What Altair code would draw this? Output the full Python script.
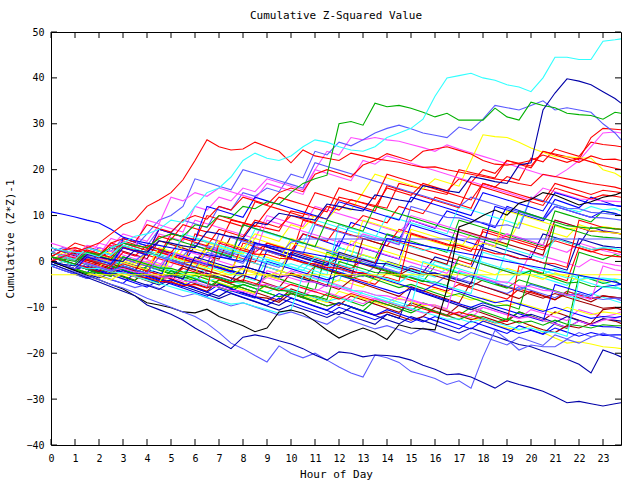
import altair as alt
import pandas as pd

# ---------------- data (half-hourly samples) ----------------
hours = [0, 0.5, 1, 1.5, 2, 2.5, 3, 3.5, 4, 4.5, 5, 5.5, 6, 6.5, 7, 7.5, 8, 8.5, 9, 9.5,
         10, 10.5, 11, 11.5, 12, 12.5, 13, 13.5, 14, 14.5, 15, 15.5, 16, 16.5, 17, 17.5,
         18, 18.5, 19, 19.5, 20, 20.5, 21, 21.5, 22, 22.5, 23, 23.5, 23.75]
hour_ticks = [0, 1, 2, 3, 4, 5, 6, 7, 8, 9, 10, 11, 12, 13, 14, 15, 16, 17, 18, 19, 20, 21, 22, 23]
value_ticks = [-40, -30, -20, -10, 0, 10, 20, 30, 40, 50]

cyan_top = [3, 2.4, 2, 1.8, 1, 3, 4, 5.5, 6, 7, 9, 8.5, 12, 15, 16, 18.4, 22, 23.6, 22.5, 22, 23, 25, 26.5, 26, 25, 24.3, 24, 25, 27, 28, 29, 31, 36, 40, 40.5, 41, 40, 39.5, 38.5, 38, 37, 40, 44.5, 44.5, 44, 44, 48, 48.3, 48.5]
navy_top = [0, -0.6, -1, 1.5, 1, 0.4, 0, 2.5, 2, 4.5, 4, 3.4, 3, 6.5, 6, 5.4, 5, 8.5, 8, 10.5, 10, 9.5, 9, 12.5, 12, 11.4, 11, 14.5, 14, 13.4, 13, 16.5, 16, 15.4, 15, 18.5, 18, 17.4, 17, 21, 21.5, 33, 36.7, 39.8, 39.3, 38.5, 37, 35.5, 34.5]
green_top = [1, 0.5, 0, 2, 1.5, 3, 4, 3.5, 3, 5, 6, 5.5, 8, 7.5, 10, 9.5, 12, 11.5, 13, 12.5, 15, 17, 18, 18.8, 30, 30.5, 29.7, 34.5, 33.7, 34, 33.4, 32.5, 31.5, 32.3, 30.8, 30.8, 30.8, 33.4, 31.5, 30.8, 34.7, 34, 33.5, 32.3, 32, 31.8, 31, 32.5, 32.3]
red_early = [0, 1, 2, 3, 4, 6, 8, 9, 12, 13.4, 15, 17.8, 22, 26.5, 25, 24.3, 24.5, 26, 25, 24, 21.5, 24.3, 23, 22.5, 22, 23.6, 23, 22.4, 22, 21.6, 21, 20.5, 20.6, 20, 19.5, 19, 18.5, 18, 17.6, 17, 16.5, 19, 18.5, 18, 17.5, 17, 16.6, 16.2, 15.8]
navy_low = [-0.5, -1.5, -2.5, -3.5, -4.5, -5.5, -6.5, -7.5, -9.5, -10.5, -11.5, -12.8, -14.5, -16, -17.5, -19, -16.5, -16, -16.5, -17.3, -18, -19, -20.4, -21.5, -19.7, -20, -20.8, -20.4, -20.5, -20.8, -21.5, -22.6, -23.5, -24.7, -24.5, -25.2, -26.4, -27.6, -26, -26.8, -27.5, -28.3, -29.5, -30.8, -30.5, -31, -31.5, -31, -30.8]
lblue_low = [-0.5, -1.5, -2.3, -3.2, -4, -5, -5.8, -6.8, -8, -9, -10, -11, -12, -13.5, -15.5, -17.8, -19, -20.5, -21.9, -18.4, -20, -21, -20, -21.5, -23, -24.3, -25.2, -20.4, -21, -22, -24, -24.7, -25.5, -26.8, -26, -27.6, -20.8, -15, -17, -19.3, -18.2, -18.6, -18.6, -17, -17.8, -16.5, -15.6, -16.5, -17]
black_line = [0, -1, -2, -3, -4, -5, -6, -7.5, -9, -9.5, -10.1, -11, -11.2, -10.4, -12, -13, -14, -15.3, -14.5, -11, -10.6, -11.3, -13, -15, -16.7, -15.5, -14.5, -15.5, -17, -13.8, -14.5, -14.7, -14.9, -6, 7.5, 8.5, 10, 11.2, 10.1, 12.7, 13.5, 15, 14.5, 13.4, 12.3, 13, 14, 14.5, 15]
blue_start = [10.8, 10.3, 9.7, 9, 8.4, 7, 5.3, 4.5, 4, 3.5, 3, 2.5, 2, 1.5, 1, 0.5, 0, 4, 3.5, 3, 2.5, 2, 1.5, 1, 0.5, 0, -0.5, -1, 5, 4.5, 4, 3.5, 3, 2.5, 2, 1.5, 1, 0.5, 0, -0.5, -1, -1.5, -2, -2.5, -3, -3.5, -4, -4.5, -5]
red_a = [2, 1.4, 0.8, 0.2, -0.4, 3.5, 3, 2.4, 1.8, 1.2, 6, 5.4, 4.8, 4.2, 3.6, 9, 8.4, 7.8, 7.2, 6.6, 11, 10.4, 9.8, 9.2, 14, 13.4, 12.8, 12.2, 11.6, 17, 16.4, 15.8, 15.2, 14.6, 20, 19.4, 18.8, 18.2, 22, 21.4, 20.8, 24, 23.4, 22.8, 22.2, 27, 29, 28.8, 28.7]
red_b = [1, 0.2, -0.6, 3, 2.2, 1.4, 0.6, -0.2, -1, 2, 1.2, 0.4, -0.4, 3, 2.2, 1.4, 0.6, -0.2, 4, 3.2, 2.4, 6, 5.2, 4.4, 8, 7.2, 10, 9.2, 8.4, 12, 11.2, 10.4, 14, 13.2, 12.4, 11.6, 17, 16.2, 18.5, 17.7, 22.5, 21.7, 24.5, 23.7, 22.9, 26, 25.5, 25.2, 25]
mag_a = [3, 2.2, 1.4, 0.6, 4, 3.2, 6, 5.2, 4.4, 8, 7.2, 6.4, 12, 11.2, 14, 13.2, 16, 15.2, 18, 17.2, 16.4, 15.6, 20, 24, 23.2, 27, 26.5, 27, 26.5, 26.2, 25.5, 24.8, 24, 25.4, 24.5, 23.7, 22.9, 22.1, 21.3, 20.5, 19.7, 18.9, 18.4, 20, 22, 25, 28, 28.2, 28]
lblue_a = [0, 1.5, 2, 1.2, 3, 2.2, 5, 4.2, 3.4, 7, 6.2, 9, 8.2, 7.4, 12, 11.2, 15, 14.2, 16, 15.2, 19, 18.2, 24, 23.2, 26, 25.2, 26.5, 28, 29, 29.7, 28.9, 28, 27.5, 27, 29.3, 28.6, 31, 34, 33.5, 33, 34, 35, 33, 33.5, 33, 32.5, 30, 28, 26.5]
yel_a = [2, 1.2, 0.4, -0.4, -1.2, 1, 0.2, -0.6, 2, 1.2, 0.4, 3.5, 2.7, 1.9, 4.5, 3.7, 2.9, 6, 5.2, 4.4, 8, 7.2, 10, 9.2, 12, 11.2, 15, 19, 18.2, 17.4, 16.6, 15.8, 18, 17.2, 16.4, 22, 27.6, 27.2, 27, 26, 24.7, 23.8, 22.8, 22.8, 22.6, 22.5, 20, 19.2, 18.4]
red_c = [0, -0.8, -1.6, 0.5, -0.3, -1.1, 2, 1.2, 3.5, 2.7, 1.9, 5, 4.2, 3.4, 7, 6.2, 5.4, 9, 8.2, 7.4, 10, 9.2, 8.4, 12, 11.2, 13.5, 12.7, 11.9, 16, 15.2, 14.4, 17, 16.2, 15.4, 18, 17.2, 20, 19.2, 22, 21.2, 20.4, 24, 23.2, 22.4, 21.6, 23, 22.2, 22.3, 22]
red_d = [1, 2.5, 3, 2.2, 1.4, 4, 5, 4.2, 8, 7.2, 6.4, 9, 10, 9.2, 12, 11.2, 14, 13.2, 12.4, 15, 16, 15.2, 19, 20, 19.2, 18.4, 21, 22, 23.5, 22.7, 21.9, 24, 24.5, 25, 24.2, 23.4, 22, 21.2, 21, 21.4, 22, 23.2, 22.4, 21.6, 22.5, 21.7, 20.9, 20.3, 20]
f01 = [0, -0.8, -1.7, -2.5, 0.5, -0.4, -1.3, -2.1, 2, 1.1, 0.2, -0.7, 3.5, 2.6, 1.7, 0.8, 5, 4.1, 3.2, 2.3, 1.4, 6, 5.1, 4.2, 3.3, 8.5, 7.6, 6.7, 5.8, 4.9, 9, 8.1, 7.2, 11, 10.1, 9.2, 8.3, 7.4, 12, 11.1, 10.2, 9.3, 13.5, 12.6, 11.7, 14, 13.1, 12.2, 12]
f02 = [2, 1.2, 0.4, -0.4, -1.2, -2, 1, 0.2, -0.6, -1.4, -2.2, -3, 0.5, -0.3, -1.1, -1.9, -2.7, 4, 3.2, 2.4, 1.6, 0.8, 0, -0.8, 3, 2.2, 1.4, 0.6, 6, 5.2, 4.4, 3.6, 2.8, 2, 9, 8.2, 7.4, 6.6, 5.8, 5, 4.2, 3.4, 11, 10.2, 9.4, 8.6, 11, 10.4, 10]
f03 = [1, 2.5, 1.7, 0.9, 0.1, 3, 2.2, 1.4, 0.6, 6, 5.2, 4.4, 9, 8.2, 7.4, 6.6, 5.8, 5, 10, 9.2, 8.4, 7.6, 12, 11.2, 10.4, 9.6, 8.8, 8, 7.2, 6.4, 9, 8.2, 7.4, 6.6, 5.8, 5, 4.2, 3.4, 6, 5.2, 4.4, 3.6, 2.8, 2, 4, 3.2, 2.4, 1.8, 1.5]
f04 = [3, 2.2, 1.4, 0.6, -0.2, -1, -1.8, 0.5, -0.3, -1.1, -1.9, -2.7, -3.5, -1, -1.8, -2.6, -3.4, -4.2, 0.5, -0.3, -1.1, -1.9, -2.7, -3.5, -4.3, 1.5, 0.7, -0.1, -0.9, -1.7, -2.5, -3.3, 0, -0.8, -1.6, -2.4, -3.2, -4, -4.8, -2, -2.8, -3.6, -4.4, -5.2, -3, -3.8, -4.6, -5.4, -6]
f05 = [0, -0.9, -1.8, -0.5, -1.4, -2.3, -3.2, -4.1, -2, -2.9, -3.8, -4.7, -5.6, -6.5, -4, -4.9, -5.8, -6.7, -7.6, -8.5, -6, -6.9, -7.8, -8.7, -9.6, -7.5, -8.4, -9.3, -10.2, -11.1, -9, -9.9, -10.8, -11.7, -9.5, -10.4, -11.3, -12.2, -13.1, -11, -11.9, -12.8, -11, -11.9, -12.8, -13.7, -12.5, -13, -13.5]
f06 = [1, 0.2, -0.6, -1.4, -2.2, -3, -3.8, -2, -2.8, -3.6, -4.4, -5.2, -3, -3.8, -4.6, -5.4, -6.2, -7, -5, -5.8, -6.6, -7.4, -8.2, -9, -6.5, -7.3, -8.1, -8.9, -9.7, -8, -8.8, -9.6, -9.5, -10.5, -12, -12.5, -13, -13.8, -14.5, -15, -13.8, -15.5, -16.7, -17.8, -17.5, -18, -18.6, -18.8, -19]
f07 = [2, 3, 2.2, 1.4, 0.6, -0.2, -1, -1.8, 3, 2.2, 1.4, 0.6, -0.2, 3.5, 2.7, 1.9, 1.1, 0.3, -0.5, -1.3, 1.5, 0.7, -0.1, -0.9, -1.7, -2.5, -3.3, -1, -1.8, -2.6, -3.4, -4.2, -5, -3, -3.8, -4.6, -5.4, -6.2, -7, -5.5, -6.3, -7.1, -7.9, -6.5, -7.3, -8.1, -7.5, -8, -8.5]
f08 = [0, 1, 0.2, -0.6, 1.5, 0.7, -0.1, -0.9, -1.7, -2.5, -3.3, -1, -1.8, -2.6, -3.4, -4.2, -1, -1.8, -2.6, -3.4, 2, 1.2, 0.4, -0.4, -1.2, -2, -2.8, -3.6, 0, -0.8, -1.6, -2.4, 1, 0.2, -0.6, -1.4, 4, 3.2, 2.4, 1.6, 0.8, 6, 5.2, 4.4, 3.6, 7.5, 6.7, 6.3, 6]
f09 = [3, 2.2, 4, 3.2, 2.4, 1.6, 4.5, 3.7, 2.9, 2.1, 1.3, 0.5, -0.3, -1.1, 2, 1.2, 0.4, -0.4, -1.2, -2, -2.8, -3.6, -1, -1.8, -2.6, -3.4, -4.2, -5, -2.5, -3.3, -4.1, -4.9, -5.7, -6.5, -5, -5.8, -6.6, -7.4, -8.2, -6, -6.8, -7.6, -8.4, -6.5, -7.3, -8.1, -7.5, -7.8, -8]
f10 = [-1, -1.9, -2.8, -3.7, -2, -2.9, -3.8, -4.7, -5.6, -4, -4.9, -5.8, -6.7, -7.6, -6, -6.9, -7.8, -8.7, -9.6, -8, -8.9, -9.8, -10.7, -11.6, -10, -10.9, -11.8, -12.7, -11.5, -12.4, -13.3, -12, -12.9, -13.8, -14.7, -13, -13.9, -14.8, -15.7, -14, -14.9, -15.8, -13.5, -14.4, -13, -13.9, -14.2, -14.3, -14.5]
f11 = [1, 0.1, -0.8, -1.7, -2.6, -1, -1.9, -2.8, -3.7, -4.6, -3, -3.9, -4.8, -5.7, -4, -4.9, -5.8, -6.7, -5, -5.9, -6.8, -7.7, -8.6, -7, -7.9, -8.8, -9.7, -8, -8.9, -9.8, -10.7, -9, -9.9, -10.8, -11.7, -10, -10.9, -11.8, -12.7, -11, -11.9, -12.8, -13.7, -14.6, -3, -3.9, -4.8, -4.2, -5]
f12 = [0, -0.8, -1.6, -2.4, -3.2, -1.5, -2.3, -3.1, -3.9, -4.7, -3, -3.8, -4.6, -2, -2.8, -3.6, -4.4, -5.2, -3.5, -4.3, -5.1, -5.9, -6.7, -5, -5.8, -6.6, -7.4, -8.2, -9, -7.5, -8.3, -9.1, -9.9, -10.7, -11.5, -12.3, -10, -10.8, -11.6, -12.4, -10.5, -11.3, -12.1, -12.9, -10.5, -11.3, -12.1, -11.5, -11]
f13 = [2, 1.2, 0.4, -0.4, 1, 0.2, -0.6, -1.4, 0, -0.8, -1.6, -2.4, -1, -1.8, 2, 1.2, 0.4, -0.4, -1.2, -2, -2.8, -0.5, -1.3, -2.1, 3, 2.2, 1.4, 0.6, -0.2, -1, -1.8, -2.6, -3.4, -1.5, -2.3, -3.1, -3.9, -4.7, -5.5, -6.3, -5, -5.8, -6.6, -7.4, -8.2, -7, -7.8, -8.6, -9]
f14 = [1, 2.5, 1.7, 0.9, 0.1, 3, 2.2, 1.4, 0.6, 4.5, 3.7, 2.9, 2.1, 1.3, 0.5, 5.5, 4.7, 3.9, 3.1, 2.3, 1.5, 0.7, -0.1, -0.9, 1, 0.2, -0.6, -1.4, -2.2, -3, -1.5, -2.3, -3.1, -3.9, -4.7, -5.5, -4, -4.8, -5.6, -6.4, -7.2, -8, -7, -7.8, -8.6, -9.4, -10.2, -10, -10.5]
f15 = [0, 2, 1.2, 0.4, 2.5, 1.7, 0.9, 0.1, -0.7, -1.5, 0.5, -0.3, -1.1, -1.9, -2.7, -1, -1.8, -2.6, -3.4, -2, -2.8, -3.6, -4.4, -5.2, -4, -4.8, -5.6, -3.5, -4.3, -5.1, -5.9, -6.7, -6, -6.8, -7.6, -8.4, -8, -8.8, -9.6, -9, -9.8, -10.6, -11.4, -10, -10.8, -11.6, -11, -11.3, -11.5]
f16 = [-1, 0, -0.8, -1.6, -2.4, -3.2, -1, -1.8, -2.6, 2.5, 1.7, 0.9, 0.1, -0.7, -1.5, -2.3, 4, 3.2, 2.4, 1.6, 0.8, 9, 8.2, 7.4, 6.6, 5.8, 5, 4.2, 3.4, 7, 6.2, 5.4, 4.6, 3.8, 3, 2.2, 6.5, 5.7, 4.9, 4.1, 3.3, 2.5, 5, 4.2, 3.4, 2.6, 2.8, 2.3, 2]
f17 = [0, -0.8, -1.6, -2.4, -3.2, -4, -4.8, -2.5, -3.3, -4.1, 2, 1.2, 0.4, -0.4, -1.2, -2, -2.8, 4, 3.2, 2.4, 1.6, 0.8, 0, -0.8, 4.5, 3.7, 2.9, 2.1, 1.3, 0.5, 8, 7.2, 6.4, 5.6, 4.8, 4, 3.2, 12, 11.2, 10.4, 9.6, 8.8, 12, 11.2, 10.4, 9.6, 11, 10.5, 10]
f18 = [3, 2.2, 1.4, 0.6, -0.2, -1, -1.8, -2.6, -1, -1.8, -2.6, -3.4, -4.2, -2, -2.8, -3.6, -4.4, -5.2, -3, -3.8, -4.6, -5.4, -6.2, 2, 1.2, 0.4, -0.4, -1.2, -2, -2.8, -3.6, -4.4, -1, -1.8, -2.6, -3.4, -4.2, -5, -5.8, -4, -4.8, -5.6, -6.4, -7.2, 2, 1.2, 0.4, 1.5, 1]
f19 = [4, 3.2, 2.4, 1.6, 0.8, 0, 2, 1.2, 0.4, -0.4, -1.2, 2.5, 1.7, 0.9, 0.1, -0.7, -1.5, -2.3, -3.1, -3.9, -2, -2.8, -3.6, -4.4, -5.2, -6, 3, 2.2, 1.4, 0.6, -0.2, -1, -1.8, -2.6, 1, 0.2, -0.6, -1.4, -2.2, -3, 2, 1.2, 0.4, -0.4, -1.2, 0.5, -0.3, -0.8, -1]
f20 = [1, 0.2, -0.6, 3, 2.2, 1.4, 4, 3.2, 2.4, 1.6, 0.8, 0, 5, 4.2, 3.4, 2.6, 1.8, 7, 6.2, 5.4, 4.6, 3.8, 9, 8.2, 7.4, 6.6, 5.8, 5, 10, 9.2, 8.4, 7.6, 6.8, 6, 12, 11.2, 10.4, 9.6, 8.8, 8, 14, 13.2, 12.4, 11.6, 10.8, 12, 11.2, 11.5, 11]
f21 = [2, 1.1, 0.2, -0.7, -1.6, -2.5, -1, -1.9, -2.8, -3.7, -4.6, -1, -1.9, -2.8, -3.7, -4.6, -3, -3.9, -4.8, -5.7, -2.5, -3.4, -4.3, -5.2, -6.1, -4, -4.9, -5.8, -6.7, -7.6, -5.5, -6.4, -7.3, -8.2, -9.1, -4.5, -5.4, -6.3, -7.2, -8.1, -6.5, -7.4, -8.3, -7, -7.9, -8.8, -7.5, -7.8, -8]
f22 = [1, 0.2, -0.6, -1.4, 0.5, -0.3, -1.1, -1.9, 0, -0.8, -1.6, -2.4, -3.2, 4, 3.2, 2.4, 1.6, 5, 4.2, 3.4, 2.6, 1.8, 1, 0.2, -0.6, 4.5, 3.7, 2.9, 2.1, 1.3, 0.5, -0.3, -1.1, -1.9, -0.5, -1.3, -2.1, -2.9, -1.5, -2.3, -3.1, -3.9, -2.5, -3.3, -4.1, -3.5, -4.3, -3.8, -4]
f23 = [-1, -1.9, -2.8, -3.7, -3, -3.9, -4.8, -5.7, -5, -5.9, -6.8, -7.7, -7, -7.9, -8.8, -9.7, -9, -9.9, -10.8, -11.7, -11, -11.9, -12.8, -13.7, -12, -12.9, -13.8, -14.7, -14, -14.9, -15.8, -14.5, -15.4, -16.3, -17.2, -15.5, -16.4, -17.3, -18.2, -16.5, -17.4, -18.3, -16, -16.9, -15.5, -16.4, -15.8, -16.5, -17]
f24 = [0, -0.9, -1.8, -2.7, -3.6, -2.5, -3.4, -4.3, -5.2, -6.1, -4.5, -5.4, -6.3, -7.2, -8.1, -7, -7.9, -8.8, -9.7, -10.6, -9.5, -10.4, -11.3, -12.2, -11, -11.9, -12.8, -13.7, -11.5, -12.4, -6, -6.9, -7.8, -8.7, -9.6, -10.5, -9.5, -10.4, -11.3, -12.2, -11.5, -12.4, -13.3, -12, -12.9, -13.8, -12.5, -12.8, -13]
f25 = [2, 1.2, 0.4, -0.4, 1, 0.2, 3, 2.2, 1.4, 0.6, -0.2, -1, 6, 5.2, 4.4, 3.6, 2.8, 2, 4, 3.2, 2.4, 1.6, 0.8, 0, -0.8, -1.6, 0.5, -0.3, 5, 4.2, 3.4, 2.6, 1.8, 1, 0.2, -0.6, 7, 6.2, 5.4, 4.6, 3.8, 3, 4.5, 3.7, 2.9, 2.1, 2.8, 2.3, 2]
f26 = [1, 0.2, -0.6, -1.4, -2.2, -3, -1.5, -2.3, -3.1, -3.9, -4.7, -5.5, -4, -4.8, -5.6, -6.4, -7.2, -8, 0, -0.8, -1.6, -2.4, -3.2, -4, -3, -3.8, -4.6, -5.4, -6.2, -7, -6, -6.8, -7.6, -8.4, -9.2, -10, -9, -9.8, -10.6, -11.4, -12.2, -13, -5, -5.8, -6.6, -7.4, -5.5, -5.2, -5]
f27 = [0, -0.9, -1.8, -2.7, -1.5, -2.4, -3.3, -4.2, -1, -1.9, -2.8, -3.7, -3, -3.9, -4.8, -5.7, -5, -5.9, -6.8, -7.7, -7, -7.9, -1, -1.9, -2.8, -3.7, -3, -3.9, -4.8, -5.7, -5, -5.9, -6.8, -7.7, -7, -7.9, -8.8, -9.7, -9.5, -10.4, -2, -2.9, -3.8, -4.7, -4.5, -5.4, -5.5, -5.8, -6]
f28 = [2, 1.2, 0.4, -0.4, -1.2, -2, -1, -1.8, -2.6, -3.4, -3, -3.8, -4.6, -2, -2.8, -3.6, -4.4, -5.2, -5, -5.8, -6.6, -7.4, -6, -6.8, -7.6, -8.4, -9.2, -8, -8.8, -9.6, -10.4, -11.2, -11, -11.8, -12.6, -11, -10, -10.8, -11.6, -12.4, -12, -12.8, -13.6, -14.4, -13, -13.8, -12.8, -12.4, -12]
f29 = [0, 1, 0.2, -0.6, -1.4, -2.2, -1, -1.8, -2.6, -1.2, -2, -2.8, -3.6, -4.4, -3.5, -4.3, -5.1, -5.9, -6.7, -5.5, -6.3, -7.1, -7.9, -8.7, -8, -8.8, -6.5, -7.3, -8.1, -8.9, -9.7, 0, -0.8, -1.6, -2.4, -3.2, -4, -4.8, 3, 2.2, 1.4, 0.6, 5, 4.2, 3.4, 2.6, 3, 2.8, 2.5]
f30 = [3, 2.1, 1.2, 0.3, -0.6, -1.5, -1, -1.9, -2.8, -3.7, -3, -3.9, -4.8, -5.7, -5, -5.9, -6.8, -7.7, -8, -8.9, -7, -7.9, -8.8, -9.7, -9, -9.9, -10.8, -11.7, -11, -11.9, -12.8, -12, -10, -10.9, -11.8, -12.7, -12, -12.9, -13.8, -13, -14, -14.9, -15.5, -14, -14.5, -13.5, -10.5, -10.2, -10]
f31 = [2, 1.2, 3, 2.2, 1.4, 0.6, -0.2, -1, -1.8, 3, 2.2, 1.4, 0.6, -0.2, -1, -1.8, 2.5, 1.7, 0.9, 0.1, 5, 4.2, 3.4, 2.6, 1.8, 1, 9, 8.2, 7.4, 6.6, 5.8, 5, 4.2, 3.4, 2.6, 6, 5.2, 4.4, 3.6, 8.5, 7.7, 6.9, 6.1, 5.3, 8, 7.2, 7.6, 7.2, 7]
f32 = [1, 0.2, -0.6, 3, 2.2, 1.4, 0.6, -0.2, -1, -1.8, 2, 1.2, 4, 3.2, 2.4, 1.6, 8, 7.2, 6.4, 5.6, 4.8, 4, 3.2, 2.4, 1.6, 0.8, 0, -0.8, -1.6, -2.4, -1, -1.8, -2.6, -3.4, -4.2, -3, -3.8, -4.6, -5.4, -6.2, -5, -5.8, -6.6, -7.4, -7, -7.8, -8.3, -8, -8]
f33 = [1, 0.1, -0.8, -1.7, -2.6, -1.5, -2.4, -3.3, -4.2, -5.1, -4, -4.9, -5.8, -6.7, -7.6, -6, -6.9, -7.8, -8.7, -9.6, -8, -8.9, -9.8, -10.7, -11.6, -10, -10.9, -11.8, -12.7, -13.6, -12, -12.9, -13.8, -14.7, -15.6, -14.5, -15.4, -16.3, -17.2, -18.1, -18.6, -19.5, -20.4, -21.3, -22.4, -24.3, -19.3, -20.2, -20.8]
f34 = [0, 1.5, 0.7, -0.1, -0.9, -1.7, -0.5, -1.3, -2.1, -2.9, -3.7, -1.5, -2.3, -3.1, -3.9, -4.7, -4, -4.8, -5.6, -6.4, -5, -5.8, -6.6, -7.4, -8.2, -7, -7.8, -8.6, -9.4, -10.2, -9.5, -10.3, -11.1, -11.9, -11, -11.8, -12.6, -13.4, -13, -1, -1.8, -2.6, -3.4, -4.2, 3, 2.2, 1.4, 1.1, 1]
f35 = [2, 1.2, 0.4, -0.4, -1.2, -2, 5, 4.2, 3.4, 2.6, 1.8, 1, 0.2, -0.6, -1.4, -2.2, -3, -3.8, 2.5, 1.7, 0.9, 0.1, -0.7, -1.5, -2.3, -3.1, -2.5, -3.3, -4.1, -4.9, -5.7, -6.5, -5, -5.8, -6.6, -7.4, -8.2, -9, -8.5, -9.3, -10.1, -10.9, -10, -10.8, -11.6, -12.4, -12, -12.2, -12]
f36 = [1, 0.1, -0.8, -1.7, -2.6, -1, -1.9, -2.8, -3.7, -4.6, -2, -2.9, -3.8, -4.7, -5.6, -6.5, -5, -5.9, -6.8, -7.7, -7, -7.9, -8.8, -9.7, -9, -9.9, -10.8, -8.5, -9.4, -10.3, -11.2, -10, -10.9, -11.8, -12.7, -11.5, -12.4, -13.3, -12.5, -13.4, -13, -13.9, -12.8, -13.7, -14, -14.5, -13.8, -14, -14]
f37 = [0, 1.5, 1, 3.5, 3, 2.2, 1.4, 0.6, -0.2, -1, 2, 1.2, 0.4, -0.4, 4, 3.2, 2.4, 1.6, 9, 8.2, 7.4, 6.6, 5.8, 5, 4.2, 3.4, 6, 5.2, 4.4, 3.6, 10, 9.2, 8.4, 7.6, 6.8, 6, 5.2, 4.4, 6, 5.2, 4.4, 3.6, 9, 8.2, 7.4, 6.6, 6.5, 6.2, 6]
f38 = [2, 1.2, 0.4, -0.4, -1.2, -2, -1, -1.8, -2.6, -3.4, -3, -3.8, -4.6, -5.4, 3, 2.2, 1.4, 0.6, -0.2, -1, -0.5, -1.3, -2.1, -2.9, 8, 7.2, 6.4, 5.6, 4.8, 4, 3.2, 2.4, 3, 2.2, 1.4, 0.6, -0.2, -1, -1.8, -2.6, -2, -2.8, -1.5, -2.3, -3.9, -3.5, -3.8, -4, -4]
f39 = [1, 0.2, 2.5, 1.7, 0.9, 4, 3.2, 2.4, 1.6, 7, 6.2, 5.4, 4.6, 10, 9.2, 8.4, 7.6, 13, 12.2, 11.4, 10.6, 9.8, 15, 14.2, 13.4, 12.6, 11.8, 11, 16.5, 15.7, 14.9, 14.1, 13.3, 12.5, 11.7, 17, 16.2, 15.4, 14.6, 13.8, 13, 12.2, 16, 15.2, 14.4, 13.6, 14.5, 14.2, 14]
f40 = [0, -0.9, -1.8, -1, -1.9, -2.8, -2, -2.9, -3.8, -4.7, -4, -4.9, -5.8, -6.7, -5, -5.9, -6.8, -7.7, -8.6, -7, -7.9, -8.8, -9.7, -10.6, -9, -9.9, -10.8, -11.7, -10.5, -11.4, -12.3, -13.2, -12, -12.9, -13.8, -14.7, -13, -13.9, -14.8, -15.7, -15, -15.9, -14.5, -15.4, -16.3, -15.5, -16.1, -16, -16]
f41 = [1, 0.2, -0.6, -1.4, -2.2, -0.5, -1.3, -2.1, 2, 1.2, 0.4, -0.4, -1.2, -2, -2.8, -3.6, -4.4, 3, 2.2, 1.4, 0.6, -0.2, -1, -1.8, -2.6, -3.4, 5, 4.2, 3.4, 2.6, 1.8, 1, 0.2, -0.6, 7, 6.2, 5.4, 4.6, 3.8, 3, 2.2, 1.4, 9, 8.2, 7.4, 6.6, 6.5, 6.2, 6]
f42 = [0, -0.8, -1.6, -2.4, -3.2, -4, -2.5, -3.3, -4.1, -4.9, 1, 0.2, -0.6, -1.4, -2.2, -3, -1.5, -2.3, -3.1, -3.9, 4, 3.2, 2.4, 1.6, 0.8, 0, 1.5, 0.7, -0.1, -0.9, 7, 6.2, 5.4, 4.6, 3.8, 3, 4, 3.2, 11, 10.2, 9.4, 8.6, 7.8, 7, 7.5, 6.7, 6.4, 6.2, 6]
f43 = [3, 2.2, 1.4, 0.6, -0.2, -1, 1, 0.2, 2, 1.2, 0.4, -0.4, 0, -0.8, 6, 5.2, 4.4, 3.6, 3.5, 2.7, 2.5, 1.7, 8, 7.2, 6.4, 5.6, 5.5, 4.7, 4.5, 3.7, 12, 11.2, 10.4, 9.6, 9.5, 8.7, 8.5, 7.7, 8, 7.2, 14, 13.2, 12.4, 11.6, 11.5, 10.7, 10.5, 10.2, 10]
f44 = [2, 1.2, 0.4, -0.4, -1.2, -2, -1, -1.8, -2.6, -3.4, -3, -3.8, 1, 0.2, -0.6, -1.4, -1, -1.8, -2.6, -3.4, -3, -3.8, -4.6, -5.4, 2, 1.2, 0.4, -0.4, -0.5, -1.3, -2.1, -2.9, -2.5, -3.3, -4.1, -4.9, 3, 2.2, 1.4, 0.6, 0.5, -0.3, -1.1, -1.9, 5, 4.2, 3.4, 3.1, 3]
f45 = [0, -0.8, -1.6, -2.4, -2.5, -3.3, 1, 0.2, -0.6, -1.4, -1.5, -2.3, -2.5, -3.3, -3.5, -4.3, -4.5, -5.3, -5.5, -6.3, -6.5, -7.3, -7.5, -8.3, 0, -0.8, -1.6, -2.4, -2.5, -3.3, -3.5, -4.3, -4.5, -5.3, 1, 0.2, -0.6, -1.4, -2.2, -3, -2, -2.8, 8, 7.2, 6.4, 5.6, 5.3, 5.1, 5]
f46 = [1, 0.2, -0.6, -1.4, -1.5, -2.3, -2.5, -3.3, -3.5, -4.3, -4.5, -5.3, -5, -5.8, 4, 3.2, 2.4, 1.6, 1.5, 0.7, 0.5, -0.3, -0.5, -1.3, -1.5, -2.3, -2.5, -3.3, -3.5, -4.3, 6, 5.2, 4.4, 3.6, 3.5, 2.7, 2.5, 1.7, 1.5, 0.7, 0.5, -0.3, -0.5, -1.3, 9, 8.2, 7.4, 7.1, 7]
f47 = [2, 1.2, 0.4, -0.4, -1.2, -2, -1.5, -2.3, -2.5, -3.3, -3.5, -4.3, -4.5, -5.3, -5.5, -6.3, -6.5, -7.3, -2, -2.8, -3.6, -4.4, -4.5, -5.3, -5.5, -6.3, -6.5, -7.3, -7.5, -8.3, -8.5, -9.3, -9.5, -10.3, -2, -2.8, -3.6, -4.4, -4.5, -5.3, -5.5, -6.3, -6.5, -7.3, -7.5, -8.3, -1, -1.8, -2]
f48 = [-1, 0, -0.8, -1.6, -1.5, -2.3, -2.5, -3.3, -4, -4.8, -5.5, -6.3, -7, -7.8, -8.5, -9.3, -9, -9.8, -10.5, -11.3, -10.5, -3, -3.8, -4.6, -5.4, -6.2, -7, -7.8, -8.6, -9.4, -10.2, -11, -11.8, -12.6, -12.5, -13.3, -12.5, -13.3, -14, -14.8, -14.5, -15.3, -15.5, -16.3, -4, -4.8, -5.6, -5.8, -6]
f49 = [0, 1, 2, 1.2, 0.4, -0.4, 4, 3.2, 6, 9, 10, 12, 18, 17.2, 16.4, 15.6, 20, 19.2, 18.4, 17.6, 16.8, 16, 21.5, 20.7, 19.9, 19.1, 18.3, 17.5, 16.7, 15.9, 15.1, 14.3, 13.5, 12.7, 11.9, 14, 13.2, 12.4, 11.6, 10.8, 10, 9.2, 12, 11.2, 10.4, 9.6, 9.5, 9.2, 9]
f50 = [1, 0.2, 3, 2.2, 1.4, 5, 4.2, 3.4, 9, 8.2, 14, 13.2, 15, 14.2, 16, 15.2, 14.4, 13.6, 17, 16.2, 15.4, 14.6, 20, 19.2, 18.4, 17.6, 22, 21.2, 23, 22.2, 21.4, 20.6, 19.8, 19, 18.2, 17.4, 16.6, 15.8, 15, 14.2, 13.4, 16, 15.2, 14.4, 13.6, 13.5, 13.2, 13.1, 13]
f51 = [0, -0.8, -1.6, 1, 0.2, -0.6, 3, 2.2, 1.4, 7, 6.2, 5.4, 4.6, 12, 11.2, 10.4, 9.6, 14, 13.2, 12.4, 11.6, 10.8, 10, 9.2, 13, 12.2, 11.4, 10.6, 9.8, 9, 14, 13.2, 12.4, 11.6, 10.8, 10, 15, 14.2, 13.4, 12.6, 11.8, 11, 15, 14.2, 13.4, 12.6, 12.5, 12.2, 12]
f52 = [2, 1.2, 0.4, 2.5, 1.7, 0.9, 4, 3.2, 2.4, 5.5, 4.7, 8, 7.2, 6.4, 10, 9.2, 8.4, 7.6, 11, 14, 13.2, 12.4, 11.6, 10.8, 16, 15.2, 14.4, 13.6, 19, 18.2, 17.4, 16.6, 15.8, 15, 14.2, 13.4, 17, 16.2, 15.4, 14.6, 13.8, 13, 17, 16.2, 15.4, 14.6, 15.5, 15.2, 15]
f53 = [1, 0.2, -0.6, 2, 1.2, 0.4, 3.5, 2.7, 1.9, 1.1, 5, 4.2, 3.4, 2.6, 1.8, 1, 8, 7.2, 6.4, 5.6, 4.8, 4, 3.2, 9, 8.2, 7.4, 6.6, 12, 11.2, 10.4, 9.6, 8.8, 8, 7.2, 6.4, 5.6, 4.8, 4, 3.2, 11, 10.2, 9.4, 8.6, 7.8, 7.5, 7.2, 7.4, 7.1, 7]
f54 = [2, 1.2, 0.4, 3, 2.2, 1.4, 3.5, 2.7, 1.9, 1.1, 0.3, 6, 5.2, 4.4, 3.6, 2.8, 2, 1.2, 0.4, -0.4, -1.2, -2, 1, 0.2, -0.6, -1.4, -2.2, -3, -3.8, -4.6, -3, -3.8, -4.6, -5.4, -6.2, -7, 2, 1.2, 0.4, -0.4, -1.2, -2, -2.8, -3.6, -3, -3.8, -3.6, -3.9, -4]
f55 = [0, -0.8, -1.6, -0.5, -1.3, -2.1, -1, -1.8, -2.6, 1, 0.2, -0.6, -1.4, 2, 1.2, 0.4, -0.4, 3, 2.2, 1.4, 4.2, 4.9, 4.9, 4.9, 4.9, 4.9, 4.9, 4.9, 4.9, 4.9, 4.9, 4.9, 4.9, 4.9, 4.9, 4.9, 4.9, 4.9, 4.9, 4.9, 4.9, 4.9, 4.9, 4.9, 4.9, 4.9, 4.9, 4.9, 4.9]
f56 = [-2.9, -2.9, -2.9, -2.9, -2.9, -2.9, -2.9, -2.9, -2.9, -2.9, -2.9, -2.9, -2.9, -2.9, -2.9, -2.9, -2.9, -2.9, -2.9, -2.9, -2.9, -2.9, -2.9, -2.9, -2.9, -2.9, -2.9, -2.9, -2.9, -2.9, -2.9, -2.9, -2.9, -2.9, -2.9, -2.9, -2.9, -2.9, -2.9, -2.9, -2.9, -2.9, -2.9, -2.9, -2.9, -2.9, -2.9, -2.9, -2.9]

# drawing order (later = on top)
series_order = [
    "red_a", "f01", "f02", "f03", "f04", "f05", "f06", "f07", "f08", "f09",
    "red_b", "f10", "f11", "f12", "f13", "f14", "f15", "f16", "f17", "f18",
    "mag_a", "f19", "f20", "f21", "f22", "f23", "f24", "f25", "f26", "f27",
    "lblue_a", "f28", "f29", "f30", "f31", "f32", "f33", "f34", "f35", "f36",
    "yel_a", "f37", "f38", "f39", "f40", "f41", "f42", "f43", "f44", "f45",
    "red_c", "f46", "f47", "f48", "f49", "f50", "f51", "f52", "f53", "f54",
    "red_d", "f55", "f56", "blue_start", "black_line", "lblue_low", "navy_low",
    "red_early", "green_top", "navy_top", "cyan_top",
]
series_values = {
    "cyan_top": cyan_top, "navy_top": navy_top, "green_top": green_top, "red_early": red_early,
    "navy_low": navy_low, "lblue_low": lblue_low, "black_line": black_line,
    "blue_start": blue_start, "red_a": red_a, "red_b": red_b, "mag_a": mag_a,
    "lblue_a": lblue_a, "yel_a": yel_a, "red_c": red_c, "red_d": red_d,
    "f01": f01, "f02": f02, "f03": f03, "f04": f04, "f05": f05, "f06": f06, "f07": f07,
    "f08": f08, "f09": f09, "f10": f10, "f11": f11, "f12": f12, "f13": f13, "f14": f14,
    "f15": f15, "f16": f16, "f17": f17, "f18": f18, "f19": f19, "f20": f20, "f21": f21,
    "f22": f22, "f23": f23, "f24": f24, "f25": f25, "f26": f26, "f27": f27, "f28": f28,
    "f29": f29, "f30": f30, "f31": f31, "f32": f32, "f33": f33, "f34": f34, "f35": f35,
    "f36": f36, "f37": f37, "f38": f38, "f39": f39, "f40": f40, "f41": f41, "f42": f42,
    "f43": f43, "f44": f44, "f45": f45, "f46": f46, "f47": f47, "f48": f48, "f49": f49,
    "f50": f50, "f51": f51, "f52": f52, "f53": f53, "f54": f54, "f55": f55, "f56": f56,
}

# ---------------- styles ----------------
RED, GREEN, BLUE, MAG, CYAN = "#ff0000", "#00b000", "#0000ff", "#ff4cff", "#30ffff"
DRED, YEL, BLK, LBLUE, NAVY = "#a00000", "#ffff00", "#000000", "#5a5aff", "#0000a8"
series_colors = {
    "red_a": RED, "red_b": RED, "red_c": RED, "red_d": RED, "mag_a": MAG,
    "lblue_a": LBLUE, "yel_a": YEL, "blue_start": BLUE, "black_line": BLK,
    "lblue_low": LBLUE, "navy_low": NAVY, "red_early": RED, "green_top": GREEN,
    "navy_top": NAVY, "cyan_top": CYAN,
    "f01": BLUE, "f02": GREEN, "f03": MAG, "f04": CYAN, "f05": DRED, "f06": YEL,
    "f07": LBLUE, "f08": NAVY, "f09": RED, "f10": BLUE, "f11": GREEN, "f12": MAG,
    "f13": CYAN, "f14": DRED, "f15": YEL, "f16": RED, "f17": BLUE, "f18": GREEN,
    "f19": MAG, "f20": CYAN, "f21": DRED, "f22": YEL, "f23": LBLUE, "f24": NAVY,
    "f25": RED, "f26": BLUE, "f27": GREEN, "f28": MAG, "f29": CYAN, "f30": DRED,
    "f31": YEL, "f32": LBLUE, "f33": NAVY, "f34": RED, "f35": BLUE, "f36": GREEN,
    "f37": MAG, "f38": CYAN, "f39": RED, "f40": BLUE, "f41": DRED, "f42": YEL,
    "f43": LBLUE, "f44": NAVY, "f45": GREEN, "f46": RED, "f47": MAG, "f48": CYAN,
    "f49": LBLUE, "f50": MAG, "f51": BLUE, "f52": RED, "f53": GREEN, "f54": CYAN,
    "f55": LBLUE, "f56": YEL,
}

rows = []
for k, name in enumerate(series_order):
    for h, v in zip(hours, series_values[name]):
        rows.append({"sid": f"{k:03d}_{name}", "hour": h, "val": v,
                     "col": series_colors[name]})
df = pd.DataFrame(rows)

W, H = 570, 413
FONT = "DejaVu Sans Mono"

xscale = alt.Scale(domain=[0, 23.75], nice=False, zero=False)
yscale = alt.Scale(domain=[-40, 50], nice=False, zero=False)

x_axis = alt.Axis(values=hour_ticks, title="Hour of Day", grid=False, ticks=False,
                  domain=False, labelFlush=False, labelOverlap=False, labelBound=False,
                  labelPadding=8, format="d", labelFont=FONT, labelFontSize=10,
                  labelColor="black", titleFont=FONT, titleFontSize=11,
                  titleFontWeight="normal", titleColor="black",
                  titleX=W / 2, titleY=29, titleBaseline="middle", titleAlign="center")
y_axis = alt.Axis(values=value_ticks, title="Cumulative (Z*Z)-1", grid=False,
                  ticks=False, domain=False, labelFlush=False, labelOverlap=False,
                  labelBound=False, labelPadding=7, format="d", labelFont=FONT,
                  labelFontSize=10, labelColor="black", titleFont=FONT, titleFontSize=11,
                  titleFontWeight="normal", titleColor="black",
                  titleX=-41, titleY=H / 2, titleAngle=-90,
                  titleAlign="center", titleBaseline="middle")

lines = alt.Chart(df).mark_line(strokeWidth=1.1, clip=True).encode(
    x=alt.X("hour:Q", scale=xscale, axis=x_axis),
    y=alt.Y("val:Q", scale=yscale, axis=y_axis),
    color=alt.Color("col:N", scale=None, legend=None),
    detail="sid:N",
)

xt = pd.DataFrame({"hour": hour_ticks})
yt = pd.DataFrame({"val": value_ticks})
TL = 6
bottom_ticks = alt.Chart(xt).mark_rule(color="black", strokeWidth=1).encode(
    x=alt.X("hour:Q", scale=xscale, axis=x_axis), y=alt.value(H), y2=alt.value(H - TL))
top_ticks = alt.Chart(xt).mark_rule(color="black", strokeWidth=1).encode(
    x=alt.X("hour:Q", scale=xscale, axis=x_axis), y=alt.value(0), y2=alt.value(TL))
left_ticks = alt.Chart(yt).mark_rule(color="black", strokeWidth=1).encode(
    y=alt.Y("val:Q", scale=yscale, axis=y_axis), x=alt.value(0), x2=alt.value(TL))
right_ticks = alt.Chart(yt).mark_rule(color="black", strokeWidth=1).encode(
    y=alt.Y("val:Q", scale=yscale, axis=y_axis), x=alt.value(W), x2=alt.value(W - TL))

chart = alt.layer(lines, bottom_ticks, top_ticks, left_ticks, right_ticks).properties(
    width=W, height=H,
    background="white",
    title=alt.TitleParams("Cumulative Z-Squared Value", font=FONT, fontSize=11,
                          fontWeight="normal", anchor="middle", offset=6, color="black"),
    autosize=alt.AutoSizeParams(type="none"),
    padding={"left": 51, "top": 32, "right": 19, "bottom": 35},
).configure_view(stroke="black", strokeWidth=1)

chart.save("out.html", embed_options={"renderer": "svg", "actions": False})
